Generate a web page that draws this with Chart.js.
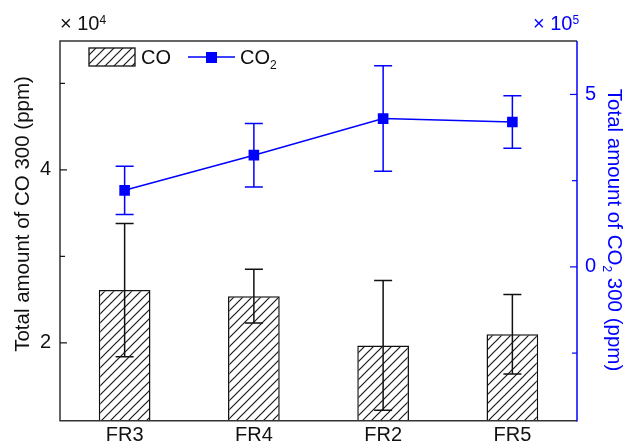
<!DOCTYPE html>
<html>
<head>
<meta charset="utf-8">
<script src="https://cdn.jsdelivr.net/npm/chart.js@4.4.0/dist/chart.umd.min.js"></script>
<style>
  html, body { margin: 0; padding: 0; background: #fff; }
  #wrap { width: 629px; height: 444px; }
</style>
</head>
<body>
<div id="wrap"><canvas id="chart" width="629" height="444"></canvas></div>
<script>
// samples
const categories = ['FR3', 'FR4', 'FR2', 'FR5'];
// CO, in units of 10^4 ppm
const coValues = [2.61, 2.54, 1.97, 2.10];
const coErrors = [0.77, 0.31, 0.75, 0.46];
// CO2, in units of 10^5 ppm
const co2Values = [2.22, 3.24, 4.30, 4.20];
const co2Errors = [0.70, 0.92, 1.53, 0.76];
// axis ticks (labelled ones get a number, others are minor)
const leftTicks = [2, 3, 4, 5];
const leftLabels = [2, 4];
const rightTicks = [-2.5, 0, 2.5, 5];
const rightLabels = [0, 5];

const FONT = "'Liberation Sans', Arial, sans-serif";
const BLUE = '#0000ff';
const BLACK = '#111';
const SIZE = 20;

Chart.defaults.font.family = FONT;
Chart.defaults.font.size = SIZE;
Chart.defaults.color = BLACK;

const canvas = document.getElementById('chart');
const ctx = canvas.getContext('2d');

function makeHatch() {
  const s = 9;
  const tile = document.createElement('canvas');
  tile.width = s; tile.height = s;
  const g = tile.getContext('2d');
  g.fillStyle = '#fff';
  g.fillRect(0, 0, s, s);
  g.strokeStyle = '#1a1a1a';
  g.lineWidth = 1.2;
  g.beginPath();
  g.moveTo(0, s); g.lineTo(s, 0);
  g.moveTo(-2, 2); g.lineTo(2, -2);
  g.moveTo(s - 2, s + 2); g.lineTo(s + 2, s - 2);
  g.stroke();
  return ctx.createPattern(tile, 'repeat');
}
const hatch = makeHatch();

// text with a raised or lowered small digit
function drawScript(c, parts, x, y) {
  let cx = x;
  parts.forEach(p => {
    c.font = (p.size || SIZE) + 'px ' + FONT;
    c.fillText(p.text, cx, y + (p.dy || 0));
    cx += c.measureText(p.text).width;
  });
  return cx;
}
function measureScript(c, parts) {
  let w = 0;
  parts.forEach(p => {
    c.font = (p.size || SIZE) + 'px ' + FONT;
    w += c.measureText(p.text).width;
  });
  return w;
}

function errorBar(c, x, yHi, yLo, half) {
  c.beginPath();
  c.moveTo(x, yHi); c.lineTo(x, yLo);
  c.moveTo(x - half, yHi); c.lineTo(x + half, yHi);
  c.moveTo(x - half, yLo); c.lineTo(x + half, yLo);
  c.stroke();
}

const decorations = {
  id: 'decorations',
  afterDatasetsDraw(chart) {
    const c = chart.ctx;
    const xs = chart.scales.x, ys = chart.scales.y, y1 = chart.scales.y1;
    c.save();
    c.lineWidth = 1.5;
    c.strokeStyle = BLACK;
    categories.forEach((_, i) => {
      const x = xs.getPixelForValue(i);
      errorBar(c, x, ys.getPixelForValue(coValues[i] + coErrors[i]),
        ys.getPixelForValue(coValues[i] - coErrors[i]), 9);
    });
    c.strokeStyle = BLUE;
    categories.forEach((_, i) => {
      const x = xs.getPixelForValue(i);
      errorBar(c, x, y1.getPixelForValue(co2Values[i] + co2Errors[i]),
        y1.getPixelForValue(co2Values[i] - co2Errors[i]), 9);
    });
    c.restore();
  },
  afterDraw(chart) {
    const c = chart.ctx;
    const a = chart.chartArea;
    const ys = chart.scales.y, y1 = chart.scales.y1;
    c.save();

    // frame
    c.lineWidth = 1.5;
    c.strokeStyle = '#333';
    c.beginPath();
    c.moveTo(a.right, a.top); c.lineTo(a.left, a.top);
    c.lineTo(a.left, a.bottom); c.lineTo(a.right, a.bottom);
    c.stroke();
    c.strokeStyle = BLUE;
    c.beginPath();
    c.moveTo(a.right, a.top); c.lineTo(a.right, a.bottom + 0.75);
    c.stroke();

    // inward ticks
    c.lineWidth = 1.2;
    c.strokeStyle = BLACK;
    leftTicks.forEach(v => {
      const y = ys.getPixelForValue(v);
      const len = leftLabels.includes(v) ? 7 : 5;
      c.beginPath(); c.moveTo(a.left, y); c.lineTo(a.left + len, y); c.stroke();
    });
    c.strokeStyle = BLUE;
    rightTicks.forEach(v => {
      const y = y1.getPixelForValue(v);
      const len = rightLabels.includes(v) ? 7 : 5;
      c.beginPath(); c.moveTo(a.right, y); c.lineTo(a.right - len, y); c.stroke();
    });

    // exponent labels
    c.textBaseline = 'alphabetic';
    c.textAlign = 'left';
    c.fillStyle = BLACK;
    drawScript(c, [{ text: '\u00d7 10' }, { text: '4', size: 12, dy: -6 }], 60, 30);
    c.fillStyle = BLUE;
    drawScript(c, [{ text: '\u00d7 10' }, { text: '5', size: 12, dy: -6 }], 533, 30);

    // axis titles
    c.fillStyle = BLACK;
    c.save();
    c.translate(28.5, 214);
    c.rotate(-Math.PI / 2);
    c.textAlign = 'center';
    c.textBaseline = 'alphabetic';
    c.font = '20.5px ' + FONT;
    c.fillText('Total amount of CO 300 (ppm)', 0, 0);
    c.restore();

    const rightTitle = [
      { text: 'Total amount of CO', size: 20.5 },
      { text: '2', size: 12, dy: 5 },
      { text: ' 300 (ppm)', size: 20.5 }
    ];
    c.fillStyle = BLUE;
    c.save();
    c.translate(608, 230);
    c.rotate(Math.PI / 2);
    c.textAlign = 'left';
    const w = measureScript(c, rightTitle);
    drawScript(c, rightTitle, -w / 2, 0);
    c.restore();

    // legend
    c.fillStyle = hatch;
    c.fillRect(89, 48, 46, 18);
    c.lineWidth = 1.3;
    c.strokeStyle = BLACK;
    c.strokeRect(89, 48, 46, 18);
    c.fillStyle = BLACK;
    c.textBaseline = 'alphabetic';
    drawScript(c, [{ text: 'CO' }], 141, 64);
    c.strokeStyle = BLUE;
    c.lineWidth = 1.5;
    c.beginPath(); c.moveTo(188, 57); c.lineTo(235, 57); c.stroke();
    c.fillStyle = BLUE;
    c.fillRect(206, 52, 11, 11);
    c.fillStyle = BLACK;
    drawScript(c, [{ text: 'CO' }, { text: '2', size: 12, dy: 5 }], 240, 64);

    c.restore();
  }
};

new Chart(canvas, {
  data: {
    labels: categories,
    datasets: [
      {
        type: 'line',
        label: 'CO2',
        data: co2Values,
        yAxisID: 'y1',
        order: 0,
        borderColor: BLUE,
        borderWidth: 1.5,
        backgroundColor: BLUE,
        pointStyle: 'rect',
        pointRadius: 7.5,
        pointBorderWidth: 0,
        pointBackgroundColor: BLUE,
        tension: 0,
        fill: false
      },
      {
        type: 'bar',
        label: 'CO',
        data: coValues,
        yAxisID: 'y',
        order: 1,
        backgroundColor: hatch,
        borderColor: BLACK,
        borderWidth: 1.5,
        borderSkipped: false,
        barPercentage: 0.8,
        categoryPercentage: 0.5
      }
    ]
  },
  options: {
    responsive: false,
    animation: false,
    layout: { padding: { top: 41, left: 0, right: 0, bottom: 0 } },
    plugins: { legend: { display: false }, tooltip: { enabled: false } },
    scales: {
      x: {
        offset: true,
        grid: { display: false, drawTicks: false },
        border: { display: false },
        ticks: { padding: 3, color: BLACK },
        afterFit(s) { s.height = 23.3; }
      },
      y: {
        position: 'left',
        min: 1.1,
        max: 5.49,
        grid: { display: false, drawTicks: false },
        border: { display: false },
        afterBuildTicks(s) { s.ticks = leftTicks.map(v => ({ value: v })); },
        ticks: {
          padding: 9,
          color: BLACK,
          callback: v => leftLabels.includes(v) ? String(v) : ''
        },
        afterFit(s) { s.width = 60; }
      },
      y1: {
        position: 'right',
        min: -4.46,
        max: 6.55,
        grid: { display: false, drawTicks: false },
        border: { display: false },
        afterBuildTicks(s) { s.ticks = rightTicks.map(v => ({ value: v })); },
        ticks: {
          padding: 8,
          color: BLUE,
          callback: v => rightLabels.includes(v) ? String(v) : ''
        },
        afterFit(s) { s.width = 52; }
      }
    }
  },
  plugins: [decorations]
});
</script>
</body>
</html>
